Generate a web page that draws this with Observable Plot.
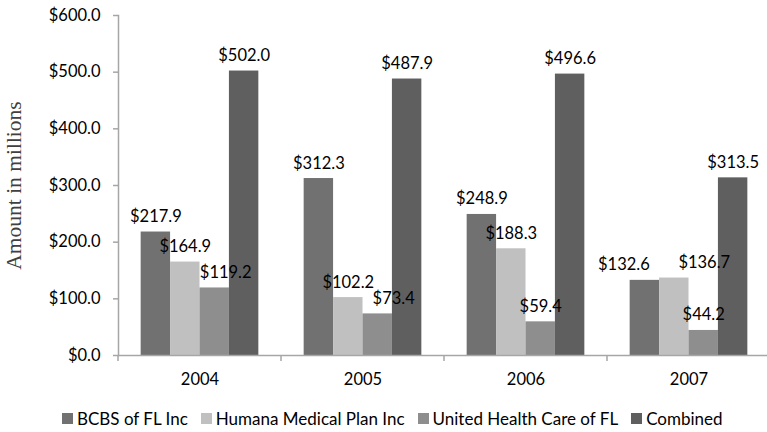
<!DOCTYPE html>
<html><head><meta charset="utf-8">
<script src="https://cdn.jsdelivr.net/npm/d3@7"></script>
<script src="https://cdn.jsdelivr.net/npm/@observablehq/plot@0.6"></script>
<style>
body{margin:0;background:#fff;font-family:Lato, sans-serif;}
#legend{display:flex;align-items:center;height:26px;padding-top:5px;padding-left:62px;font-size:17px;color:#000;white-space:nowrap}
.item{display:flex;align-items:center;margin-right:13px}
.sw{width:11px;height:11px;margin-right:4px;display:inline-block}
</style></head><body><div id="chart"></div>
<script>
const years = ["2004", "2005", "2006", "2007"];
const series = ["BCBS of FL Inc", "Humana Medical Plan Inc", "United Health Care of FL", "Combined"];
const bcbs = [217.9, 312.3, 248.9, 132.6];
const humana = [164.9, 102.2, 188.3, 136.7];
const uhc = [119.2, 73.4, 59.4, 44.2];
const combined = [502.0, 487.9, 496.6, 313.5];
const colors = ["#717171", "#c0c0c0", "#8e8e8e", "#5f5f5f"];
const yTicks = [0, 100, 200, 300, 400, 500, 600];

const seriesValues = [bcbs, humana, uhc, combined];
const rows = [];
years.forEach((yr, i) => series.forEach((s, j) => rows.push({year: yr, series: s, value: seriesValues[j][i]})));

// label nudges (as placed in the original to avoid overlaps)
const nudge = {"2004|United Health Care of FL": 11, "2005|United Health Care of FL": 16, "2007|BCBS of FL Inc": -21, "2007|Humana Medical Plan Inc": 30};

const W = 767, H = 400;
const fmt = d => "$" + d.toFixed(1);

// short category-boundary tick at the left edge of each facet
function boundaryTicks(index, scales, values, dimensions) {
  const y = scales.y;
  const x = dimensions.marginLeft;
  return d3.create("svg:line")
    .attr("stroke", "#a6a6a6").attr("stroke-width", 1.5)
    .attr("x1", x).attr("x2", x).attr("y1", y(0)).attr("y2", y(0) + 6).node();
}

const labelGroups = Array.from(d3.group(rows, d => nudge[d.year + "|" + d.series] ?? 0));

const chart = Plot.plot({
  width: W, height: H,
  marginLeft: 117, marginRight: -4, marginTop: 15, marginBottom: 45,
  style: {fontFamily: "Lato, sans-serif", fontSize: "16px", color: "#000", background: "#fff"},
  fx: {domain: years, padding: 0, label: null},
  x: {domain: series, paddingInner: 0, paddingOuter: 0.77, round: false, axis: null},
  y: {domain: [0, 600]},
  color: {domain: series, range: colors},
  marks: [
    Plot.barY(rows, {fx: "year", x: "series", y: "value", fill: "series"}),
    Plot.ruleY([0], {stroke: "#a6a6a6", strokeWidth: 1.5}),
    Plot.frame({anchor: "left", facetAnchor: "left", stroke: "#a6a6a6", strokeWidth: 1.5}),
    boundaryTicks,
    ...labelGroups.map(([dx, data]) =>
      Plot.text(data, {fx: "year", x: "series", y: "value", text: d => fmt(d.value), lineAnchor: "bottom", dy: -10, dx: dx, fill: "#000", fontSize: 16.5})
    ),
    Plot.axisY({ticks: yTicks, tickFormat: fmt, tickSize: 5, tickPadding: 13, stroke: "#a6a6a6", strokeWidth: 1.5, fill: "#000", fontSize: 16.5, label: null}),
    Plot.axisY({ticks: [], label: "Amount in millions", labelAnchor: "center", labelArrow: false, labelOffset: 113, fontFamily: "Liberation Serif, serif", fontSize: 21.5, fill: "#404040"}),
    Plot.axisFx({anchor: "bottom", tickSize: 0, tickPadding: 18, fontSize: 16.5, fill: "#000", label: null})
  ]
});
document.getElementById("chart").appendChild(chart);

const legend = d3.select("body").append("div").attr("id", "legend");
series.forEach((s, i) => {
  const it = legend.append("div").attr("class", "item");
  it.append("span").attr("class", "sw").style("background", colors[i]);
  it.append("span").text(s);
});
</script></body></html>
